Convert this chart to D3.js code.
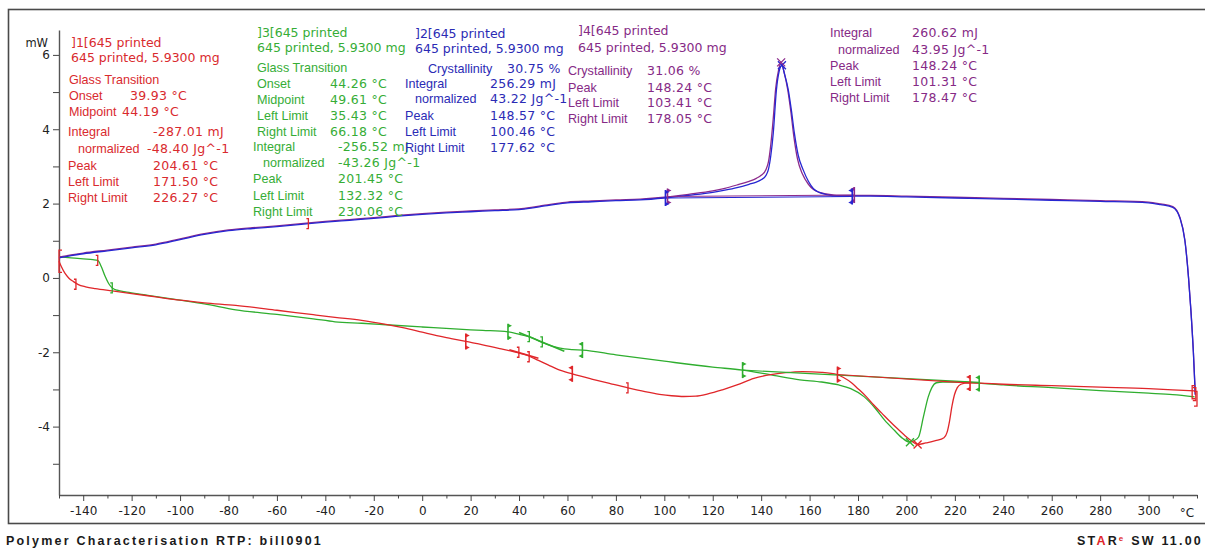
<!DOCTYPE html>
<html>
<head>
<meta charset="utf-8">
<script src="https://cdn.jsdelivr.net/npm/d3@7"></script>
<style>
  body { margin: 0; background: #fff; }
  svg { display: block; }
</style>
</head>
<body>
<svg id="chart" width="1205" height="548"></svg>
<script>
// ---- DSC runs: temperature (°C) and heat flow (mW) ----
const tempRun2 = [-150,-145,-140,-130,-120,-110,-100,-90,-80,-70,-60,-50,-40,-30,-20,-10,0,10,20,30,40,45,50,55,60,70,80,90,100,110,120,125,130,135,138,140,142,143,144,145,146.3,147.4,148.57,149.6,151.2,152.5,153.7,155.3,157.4,159.5,161.6,164,167,172,178,185,200,220,240,260,280,300,305,310,313,315,316.5,317.5,318.5,319.3];
const flowRun2 = [0.54,0.6,0.65,0.73,0.81,0.89,1.03,1.17,1.27,1.33,1.38,1.44,1.5,1.55,1.6,1.66,1.71,1.75,1.78,1.81,1.84,1.88,1.93,1.98,2.02,2.05,2.08,2.1,2.15,2.22,2.3,2.36,2.43,2.52,2.58,2.64,2.76,2.92,3.3,3.9,5.06,5.55,5.72,5.5,5.06,4.5,3.9,3.3,2.9,2.6,2.4,2.3,2.24,2.2,2.2,2.2,2.18,2.15,2.12,2.09,2.06,2.02,1.97,1.9,1.6,1.0,0.0,-0.9,-2.0,-3.15];

const tempRun4 = [-150,-145,-140,-130,-120,-110,-100,-90,-80,-70,-60,-50,-40,-30,-20,-10,0,10,20,30,40,45,50,55,60,70,80,90,100,110,120,125,130,135,138,140,142,143,144,145,146,147.2,148.24,149.4,151,152.3,153.5,155,157,159.5,161.6,164,167,172,178,185,200,220,240,260,280,300,305,310,313,315,316.5,317.5,318.5,319.3];
const flowRun4 = [0.56,0.62,0.67,0.75,0.83,0.91,1.05,1.19,1.29,1.35,1.4,1.46,1.52,1.57,1.62,1.68,1.73,1.77,1.8,1.83,1.86,1.9,1.95,2.0,2.04,2.07,2.1,2.12,2.17,2.25,2.34,2.41,2.5,2.6,2.68,2.76,2.92,3.12,3.6,4.3,5.1,5.6,5.8,5.55,5.05,4.45,3.8,3.2,2.8,2.52,2.38,2.3,2.26,2.22,2.22,2.22,2.2,2.17,2.14,2.11,2.08,2.04,1.99,1.92,1.62,1.02,0.02,-0.88,-1.98,-3.13];

const tempRun1 = [-150,-149,-147.5,-146,-144,-142,-139,-135,-128,-120,-110,-100,-90,-77,-60,-45,-36,-25,-15,-8,0,6,12,18,25,32,38,44,48,52,56,62,70,78,85,92,98,103,108,113,118,124,130,137,144,150,157,165,171.5,174,177.3,180,183.5,186.5,189.7,193,196,199,202,204.61,208,212,215.5,216.8,217.8,218.8,219.8,221,222.5,225.6,230,240,260,280,300,310,319];
const flowRun1 = [0.45,0.3,0.12,0.0,-0.1,-0.18,-0.24,-0.29,-0.35,-0.42,-0.51,-0.6,-0.67,-0.74,-0.87,-0.99,-1.06,-1.14,-1.25,-1.34,-1.46,-1.55,-1.63,-1.71,-1.8,-1.9,-1.99,-2.1,-2.22,-2.34,-2.46,-2.58,-2.72,-2.85,-2.96,-3.06,-3.13,-3.17,-3.19,-3.18,-3.12,-3.01,-2.88,-2.7,-2.6,-2.55,-2.52,-2.54,-2.6,-2.68,-2.82,-2.98,-3.2,-3.42,-3.63,-3.85,-4.04,-4.22,-4.38,-4.48,-4.44,-4.38,-4.3,-4.15,-3.85,-3.45,-3.15,-2.95,-2.86,-2.82,-2.83,-2.86,-2.9,-2.94,-2.98,-3.01,-3.04];

const tempRun3 = [-150,-145,-140,-136,-134,-132.5,-131,-129.5,-128,-126,-122,-115,-100,-90,-77,-60,-45,-36,-25,-15,0,15,25,35.43,41,45,49,54,58.7,62,66.18,80,100,120,132.32,145,156,165,172,177,182.6,187,190.9,195,198.5,201.45,203,205,207,209,210.5,212.4,215,222,230,240,260,280,300,310,319];
const flowRun3 = [0.57,0.54,0.51,0.49,0.47,0.3,0.05,-0.15,-0.27,-0.33,-0.38,-0.45,-0.6,-0.7,-0.86,-0.98,-1.1,-1.18,-1.22,-1.26,-1.32,-1.38,-1.41,-1.45,-1.53,-1.6,-1.72,-1.84,-1.91,-1.93,-1.94,-2.07,-2.24,-2.4,-2.48,-2.62,-2.74,-2.8,-2.88,-2.98,-3.2,-3.5,-3.82,-4.1,-4.32,-4.42,-4.38,-4.28,-3.74,-3.2,-2.95,-2.82,-2.8,-2.8,-2.83,-2.88,-2.95,-3.03,-3.1,-3.14,-3.2];

// integration baselines [start °C, start mW, end °C, end mW]
const baselineRun1 = [171.5, -2.6, 226.27, -2.83];
const baselineRun3 = [132.32, -2.48, 230.06, -2.81];
const baselineRun2 = [100.46, 2.15, 177.62, 2.19];
const baselineRun4 = [101.31, 2.19, 178.47, 2.23];

// glass transition inflection tangents
const tangentRun1 = [36, -1.93, 48, -2.16];
const tangentRun3 = [40, -1.47, 58.7, -1.97];

// evaluation limit flags: [°C, mW, side]  side 1 = left limit, -1 = right limit
const flagsRun1 = [[18, -1.71, 1], [62, -2.58, -1], [171.5, -2.6, 1], [226.27, -2.83, -1]];
const flagsRun3 = [[35.43, -1.45, 1], [66.18, -1.94, -1], [132.32, -2.48, 1], [230.06, -2.84, -1]];
const flagsRun2 = [[100.46, 2.15, 1], [177.62, 2.19, -1]];
const flagsRun4 = [[101.31, 2.19, 1], [178.47, 2.23, -1]];

// step / onset ticks
const stepTicksRun1 = [[-143, -0.17], [-134, 0.47], [-47, 1.46], [39.93, -2.0], [44.19, -2.12], [85, -2.96]];
const stepTicksRun3 = [[-128, -0.27], [44.26, -1.58], [49.61, -1.72]];

// peak crosses
const peaksRun1 = [[204.61, -4.48]];
const peaksRun3 = [[201.45, -4.42]];
const peaksRun2 = [[148.57, 5.72]];
const peaksRun4 = [[148.24, 5.8]];

// axis ticks
const xTickValues = d3.range(-150, 321, 10);
const xTickLabels = d3.range(-140, 301, 20);
const yTickValues = d3.range(-5, 7, 1);
const yTickLabels = [-4, -2, 0, 2, 4, 6];

// annotation texts: [label, value]
const textRun1 = [["]1[645 printed", ""], ["645 printed, 5.9300 mg", ""], ["Glass Transition", ""], ["Onset", "39.93 °C"], ["Midpoint", "44.19 °C"], ["Integral", "-287.01 mJ"], ["normalized", "-48.40 Jg^-1"], ["Peak", "204.61 °C"], ["Left Limit", "171.50 °C"], ["Right Limit", "226.27 °C"]];
const textRun3 = [["]3[645 printed", ""], ["645 printed, 5.9300 mg", ""], ["Glass Transition", ""], ["Onset", "44.26 °C"], ["Midpoint", "49.61 °C"], ["Left Limit", "35.43 °C"], ["Right Limit", "66.18 °C"], ["Integral", "-256.52 mJ"], ["normalized", "-43.26 Jg^-1"], ["Peak", "201.45 °C"], ["Left Limit", "132.32 °C"], ["Right Limit", "230.06 °C"]];
const textRun2 = [["]2[645 printed", ""], ["645 printed, 5.9300 mg", ""], ["Crystallinity", "30.75 %"], ["Integral", "256.29 mJ"], ["normalized", "43.22 Jg^-1"], ["Peak", "148.57 °C"], ["Left Limit", "100.46 °C"], ["Right Limit", "177.62 °C"]];
const textRun4 = [["]4[645 printed", ""], ["645 printed, 5.9300 mg", ""], ["Crystallinity", "31.06 %"], ["Peak", "148.24 °C"], ["Left Limit", "103.41 °C"], ["Right Limit", "178.05 °C"]];
const textRun4b = [["Integral", "260.62 mJ"], ["normalized", "43.95 Jg^-1"], ["Peak", "148.24 °C"], ["Left Limit", "101.31 °C"], ["Right Limit", "178.47 °C"]];

const footerLeft = "Polymer Characterisation RTP: bill0901";

// ---- styles ----
const RED = "#e0262a", GREEN = "#2fae2f", BLUE = "#2626d2", PURPLE = "#8c2a8c";
const RED_T = "#d92a2e", GREEN_T = "#36ad36", BLUE_T = "#2b2bb5", PURPLE_T = "#862a86";
const VERDANA = "'DejaVu Sans', Verdana, sans-serif";
const TAHOMA = "'Liberation Sans', Arial, sans-serif";

const svg = d3.select("#chart");
const x = d3.scaleLinear().domain([-150, 320]).range([59, 1197]);
const y = d3.scaleLinear().domain([-5.84, 6.67]).range([495, 30]);

// frame
svg.append("rect").attr("x", 8.5).attr("y", 9.5).attr("width", 1210).attr("height", 514)
  .attr("fill", "none").attr("stroke", "#4a4a4a").attr("stroke-width", 1.6);

// y axis
const yAxis = svg.append("g").attr("transform", `translate(${x(-150)},0)`)
  .call(d3.axisLeft(y).tickValues(yTickValues).tickSize(6).tickSizeOuter(0)
    .tickFormat(d => yTickLabels.includes(d) ? String(d) : ""));
yAxis.select(".domain").attr("stroke", "#555").attr("stroke-width", 1.4);
yAxis.selectAll(".tick line").attr("stroke", "#444");
yAxis.selectAll(".tick text").attr("font-family", VERDANA).attr("font-size", 12).attr("fill", "#222").attr("x", -9);
svg.append("text").attr("x", 48).attr("y", 47).attr("text-anchor", "end")
  .attr("font-family", VERDANA).attr("font-size", 11.5).attr("fill", "#222").text("mW");

// x axis
const xAxis = svg.append("g").attr("transform", `translate(0,${y(-5.84)})`)
  .call(d3.axisBottom(x).tickValues(xTickValues).tickSize(5).tickSizeOuter(0)
    .tickFormat(d => xTickLabels.includes(d) ? String(d) : ""));
xAxis.select(".domain").attr("stroke", "#555").attr("stroke-width", 1.4);
xAxis.selectAll(".tick line").attr("stroke", "#444")
  .attr("y2", d => xTickLabels.includes(d) ? 6 : 3.5);
xAxis.selectAll(".tick text").attr("font-family", VERDANA).attr("font-size", 12).attr("fill", "#222").attr("y", 11);
svg.append("text").attr("x", x(320) - 10).attr("y", y(-5.84) + 22).attr("text-anchor", "middle")
  .attr("font-family", VERDANA).attr("font-size", 12).attr("fill", "#222").text("°C");

// ---- curves ----
const line = d3.line().x(d => x(d[0])).y(d => y(d[1])).curve(d3.curveMonotoneX);
const plot = svg.append("g");
function drawRun(temps, flows, color) {
  plot.append("path").datum(d3.zip(temps, flows)).attr("d", line)
    .attr("fill", "none").attr("stroke", color).attr("stroke-width", 1.3);
}
function drawSeg(seg, color, w) {
  plot.append("line").attr("x1", x(seg[0])).attr("y1", y(seg[1])).attr("x2", x(seg[2])).attr("y2", y(seg[3]))
    .attr("stroke", color).attr("stroke-width", w || 1.1);
}
drawRun(tempRun3, flowRun3, GREEN);
drawRun(tempRun1, flowRun1, RED);
drawRun(tempRun4, flowRun4, PURPLE);
drawRun(tempRun2, flowRun2, BLUE);

drawSeg(baselineRun3, GREEN);
drawSeg(baselineRun1, RED);
drawSeg(baselineRun4, PURPLE);
drawSeg(baselineRun2, BLUE);
drawSeg(tangentRun1, RED, 1.6);
drawSeg(tangentRun3, GREEN, 1.6);

// limit flags: vertical bar with small pennants
function drawFlags(flags, color) {
  flags.forEach(([t, v, side]) => {
    const px = x(t), py = y(v);
    const g = plot.append("g").attr("fill", color).attr("stroke", color);
    g.append("line").attr("x1", px).attr("x2", px).attr("y1", py - 8).attr("y2", py + 8).attr("stroke-width", 1.6);
    g.append("path").attr("stroke", "none")
      .attr("d", `M${px},${py - 8}L${px + side * 4},${py - 6}L${px},${py - 4}Z M${px},${py + 8}L${px + side * 4},${py + 6}L${px},${py + 4}Z`);
  });
}
drawFlags(flagsRun3, GREEN);
drawFlags(flagsRun1, RED);
drawFlags(flagsRun4, PURPLE);
drawFlags(flagsRun2, BLUE);

// small step brackets
function drawTicks(ticks, color) {
  ticks.forEach(([t, v]) => {
    const px = x(t), py = y(v);
    plot.append("path").attr("fill", "none").attr("stroke", color).attr("stroke-width", 1.3)
      .attr("d", `M${px - 2},${py - 5}L${px},${py - 5}L${px},${py + 5}L${px - 2},${py + 5}`);
  });
}
drawTicks(stepTicksRun3, GREEN);
drawTicks(stepTicksRun1, RED);

// start / end brackets of the runs
function drawBracket(t, v0, v1, dir, color) {
  const px = x(t), ya = y(v0), yb = y(v1);
  plot.append("path").attr("fill", "none").attr("stroke", color).attr("stroke-width", 1.3)
    .attr("d", `M${px + dir * 3},${ya}L${px},${ya}L${px},${yb}L${px + dir * 3},${yb}`);
}
drawBracket(-150, 0.75, 0.15, 1, RED);
drawBracket(318, -2.9, -3.25, 1, RED);
drawBracket(319.5, -2.95, -3.3, -1, RED);
drawBracket(320, -3.05, -3.45, -1, RED);

// peak crosses
function drawCross(peaks, color) {
  peaks.forEach(([t, v]) => {
    const px = x(t), py = y(v);
    plot.append("path").attr("fill", "none").attr("stroke", color).attr("stroke-width", 1.3)
      .attr("d", `M${px - 4},${py - 4}L${px + 4},${py + 4}M${px - 4},${py + 4}L${px + 4},${py - 4}`);
  });
}
drawCross(peaksRun3, GREEN);
drawCross(peaksRun1, RED);
drawCross(peaksRun2, BLUE);
drawCross(peaksRun4, PURPLE);

// ---- annotation blocks ----
// layout: per row [y, label x, value x]
function drawBlock(rows, layout, color) {
  const g = svg.append("g").attr("fill", color);
  rows.forEach(([label, value], i) => {
    const [ty, lx, vx] = layout[i];
    const header = label.includes("printed");
    g.append("text").attr("x", lx).attr("y", ty + 4.5)
      .attr("font-family", header ? VERDANA : TAHOMA)
      .attr("font-size", header ? 12.5 : 12.6)
      .text(label);
    if (value) {
      g.append("text").attr("x", vx).attr("y", ty + 4.5)
        .attr("font-family", VERDANA).attr("font-size", 12.5).attr("letter-spacing", 0.3)
        .text(value);
    }
  });
}
drawBlock(textRun1, [[42,71],[57,71],[79,69],[95,69,130],[111,69,122],[131,68,153],[148,78,147],[165,68,153],[181,68,153],[197,68,153]], RED_T);
drawBlock(textRun3, [[32,257],[47,257],[67,257],[83,257,330],[99,257,330],[115,257,330],[131,257,330],[146,253,338],[162,263,338],[178,253,338],[195,253,338],[211,253,338]], GREEN_T);
drawBlock(textRun2, [[33,415],[48,415],[68,428,507],[83,405,490],[98,415,490],[115,405,490],[131,405,490],[147,405,490]], BLUE_T);
drawBlock(textRun4, [[30,578],[47,578],[70,568,647],[87,568,647],[102,568,647],[118,568,647]], PURPLE_T);
drawBlock(textRun4b, [[32,830,912],[49,838,912],[65,830,912],[81,830,912],[97,830,912]], PURPLE_T);

// ---- footer ----
svg.append("text").attr("x", 6).attr("y", 545)
  .attr("font-family", TAHOMA).attr("font-size", 12.5).attr("font-weight", "bold")
  .attr("letter-spacing", 2.2).attr("fill", "#1a1a1a").text(footerLeft);

const star = svg.append("text").attr("x", 1203).attr("y", 545).attr("text-anchor", "end")
  .attr("font-family", TAHOMA).attr("font-size", 12.5).attr("font-weight", "bold")
  .attr("letter-spacing", 2.2).attr("fill", "#1a1a1a");
star.append("tspan").text("ST");
star.append("tspan").attr("fill", "#e0262a").text("A");
star.append("tspan").text("R");
star.append("tspan").attr("fill", "#e0262a").attr("font-size", 8).attr("dy", -4).text("e");
star.append("tspan").attr("dy", 4).text(" SW 11.00");
</script>
</body>
</html>
